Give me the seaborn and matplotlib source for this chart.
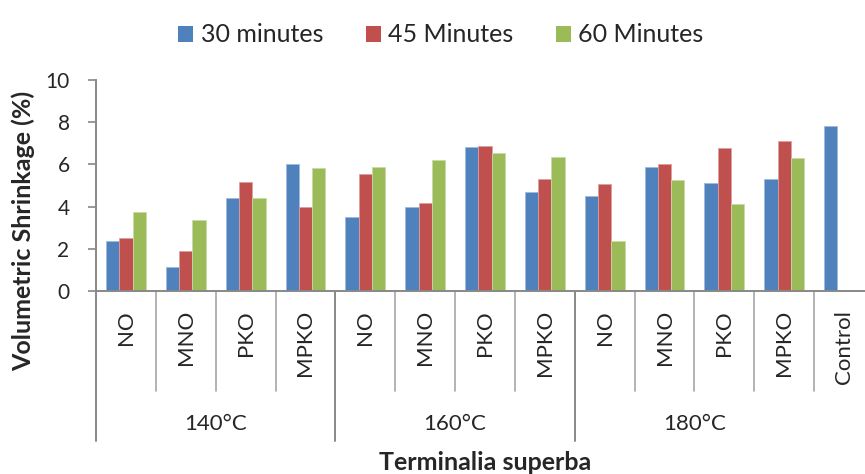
import numpy as np
import pandas as pd
import seaborn as sns
import matplotlib
matplotlib.use("Agg")
import matplotlib.pyplot as plt
from matplotlib.transforms import blended_transform_factory
from matplotlib.patches import Patch

# Treatment oils and temperatures
temperatures = ["140°C", "160°C", "180°C"]
oils = ["NO", "MNO", "PKO", "MPKO"]
series = ["30 minutes", "45 Minutes", "60 Minutes"]
colors = ["#4F81BD", "#C0504D", "#9BBB59"]

# Volumetric shrinkage (%) per temperature, oil order NO, MNO, PKO, MPKO
shrink_30 = [2.38, 1.13, 4.41, 6.03,
             3.52, 3.98, 6.83, 4.71,
             4.51, 5.87, 5.13, 5.29]
shrink_45 = [2.51, 1.89, 5.16, 4.00,
             5.56, 4.19, 6.86, 5.33,
             5.05, 6.03, 6.76, 7.13]
shrink_60 = [3.76, 3.37, 4.41, 5.84,
             5.86, 6.19, 6.52, 6.37,
             2.37, 5.24, 4.14, 6.30]
control_30 = 7.83

y_ticks = [0, 2, 4, 6, 8, 10]

# Long-form table for seaborn
keys = [f"{t} {o}" for t in temperatures for o in oils] + ["Control"]
sub_labels = oils * len(temperatures) + ["Control"]
rows = []
for name, vals in zip(series, [shrink_30, shrink_45, shrink_60]):
    for k, v in zip(keys[:-1], vals):
        rows.append({"group": k, "series": name, "value": v})
rows.append({"group": "Control", "series": series[0], "value": control_30})
df = pd.DataFrame(rows)

sns.set_style("white")
plt.rcParams["font.family"] = ["Lato", "DejaVu Sans"]

fig = plt.figure(figsize=(8.65, 4.74), dpi=100)
ax = fig.add_axes([96 / 865, 183 / 474, 778 / 865, 211 / 474])

sns.barplot(data=df, x="group", y="value", hue="series", order=keys,
            hue_order=series, palette=colors, width=0.667, dodge=True,
            errorbar=None, saturation=1, legend=False, ax=ax)

for bar in ax.patches:
    fc = bar.get_facecolor()
    light = tuple(min(1, c + (1 - c) * 0.45) for c in fc[:3])
    bar.set_edgecolor(light)
    bar.set_linewidth(0.6)

ax.set_xlim(-0.5, len(keys) - 0.5)
ax.set_ylim(0, 10)
ax.set_yticks(y_ticks)
ax.set_yticklabels([str(v) for v in y_ticks], fontsize=15)
ax.tick_params(axis="y", direction="out", length=6, width=1.2,
               color="#888888", pad=13, left=True)
ax.set_xticks([])
ax.set_xlabel("")
ax.set_ylabel("")
sns.despine(ax=ax, top=True, right=True)
for side in ["left", "bottom"]:
    ax.spines[side].set_color("#888888")
    ax.spines[side].set_linewidth(1.4)

# Category axis: oil labels, separators and temperature groups
tr = blended_transform_factory(ax.transData, ax.transAxes)
for i, lab in enumerate(sub_labels):
    ax.text(i, -0.09, lab, transform=tr, rotation=90, ha="center",
            va="top", fontsize=16, clip_on=False)

for b in range(len(keys)):
    xb = b - 0.5
    if b % 4 == 0 and b < 12:
        ax.plot([xb, xb], [0, -0.711], transform=tr, color="#888888",
                lw=1.4, clip_on=False)
    else:
        ax.plot([xb, xb], [0, -0.474], transform=tr, color="#a6a6a6",
                lw=1.2, clip_on=False)

for g, t in enumerate(temperatures):
    ax.text(g * 4 + 1.5, -0.63, t, transform=tr, ha="center", va="center",
            fontsize=16, clip_on=False)

fig.text(485 / 865, 1 - 463 / 474, "Terminalia superba", ha="center",
         va="center", fontsize=18, fontweight="bold")
fig.text(23 / 865, 1 - 231 / 474, "Volumetric Shrinkage (%)", rotation=90,
         ha="center", va="center", fontsize=18, fontweight="bold")

handles = [Patch(facecolor=c, edgecolor="none", label=s)
           for c, s in zip(colors, series)]
fig.legend(handles=handles, loc="center", bbox_to_anchor=(441 / 865, 1 - 35 / 474),
           ncol=3, frameon=False, fontsize=18, handlelength=0.6,
           handleheight=0.6, handletextpad=0.3, columnspacing=1.7)

fig.savefig("out.png", dpi=100)
